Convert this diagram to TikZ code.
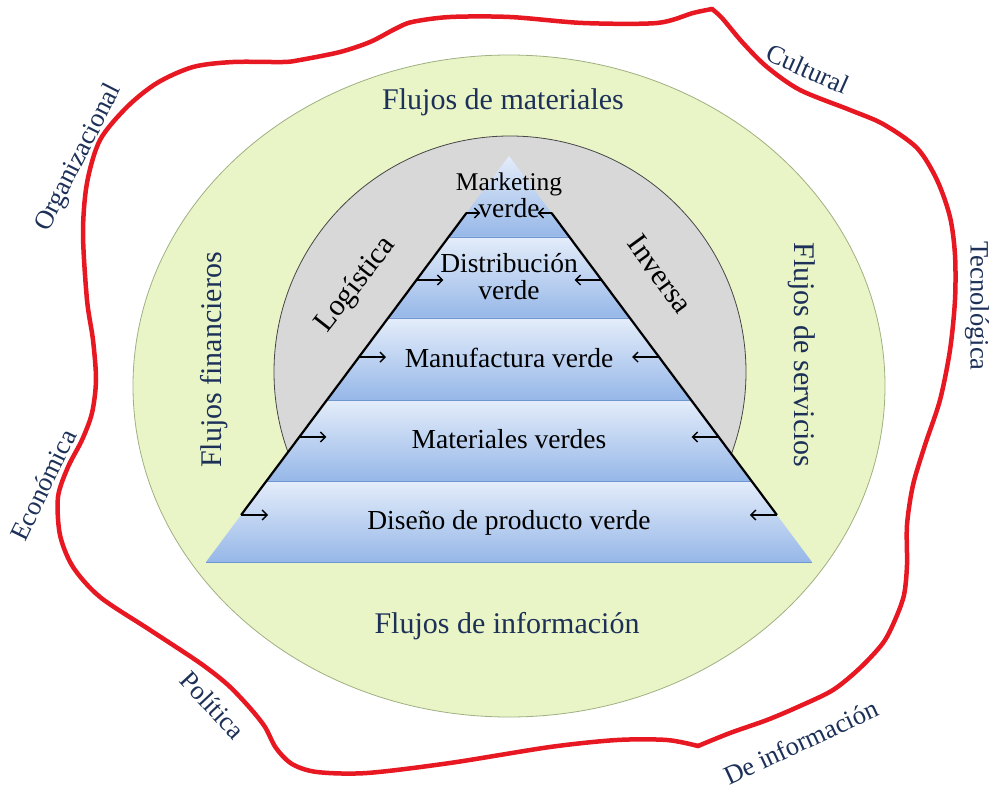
\documentclass[tikz,border=0pt]{standalone}
\usepackage{fontspec}
\setmainfont{Liberation Serif}
\usetikzlibrary{arrows.meta,calc}

\definecolor{navytext}{RGB}{28,48,88}
\definecolor{ringgreen}{RGB}{233,245,199}
\definecolor{ringgreenline}{RGB}{160,176,130}
\definecolor{loggray}{RGB}{216,216,216}
\definecolor{loggrayline}{RGB}{70,70,70}
\definecolor{bandtop}{RGB}{228,237,250}
\definecolor{bandbottom}{RGB}{150,183,232}
\definecolor{bandline}{RGB}{112,150,210}
\definecolor{contextred}{RGB}{232,24,34}

\tikzset{
  flowring/.style={fill=ringgreen, draw=ringgreenline, line width=0.8pt},
  logring/.style={fill=loggray, draw=loggrayline, line width=0.8pt},
  band/.style={top color=bandtop, bottom color=bandbottom, draw=none},
  bandsep/.style={draw=bandline, line width=0.9pt},
  sideedge/.style={draw=black, line width=2.2pt},
  flowarrow/.style={draw=black, line width=1.5pt, -{Straight Barb[length=5pt,width=10pt,line width=1.4pt]}},
  contour/.style={draw=contextred, line width=4.5pt, line join=round, line cap=round},
  flowlabel/.style={text=navytext, font=\fontsize{30}{34}\selectfont, inner sep=0pt},
  levellabel/.style={text=black, font=\fontsize{27.5}{30}\selectfont, inner sep=0pt, anchor=base},
  sidelabel/.style={text=black, font=\fontsize{30}{34}\selectfont, inner sep=0pt},
  envlabel/.style={text=navytext, font=\fontsize{26.5}{30}\selectfont, inner sep=0pt}
}

\begin{document}
\begin{tikzpicture}[x=1pt,y=-1pt]
\useasboundingbox (0,0) rectangle (994,792);
\fill[white] (0,0) rectangle (994,792);

% outer ring of flows
\draw[flowring] (509,386) ellipse [x radius=376pt, y radius=331pt];

% reverse logistics disc, cut at the pyramid base
\begin{scope}
  \clip (0,0) rectangle (994,562);
  \draw[logring] (510,372) circle [radius=236pt];
\end{scope}

% pyramid corners
\coordinate (apex) at (509,156);
\coordinate (bl) at (206,562);
\coordinate (br) at (812,562);
\foreach \i/\t in {1/0.1995,2/0.399,3/0.601,4/0.8005}{
  \coordinate (l\i) at ($(apex)!\t!(bl)$);
  \coordinate (r\i) at ($(apex)!\t!(br)$);
}

% pyramid levels
\shade[band] (apex) -- (r1) -- (l1) -- cycle;
\shade[band] (l1) -- (r1) -- (r2) -- (l2) -- cycle;
\shade[band] (l2) -- (r2) -- (r3) -- (l3) -- cycle;
\shade[band] (l3) -- (r3) -- (r4) -- (l4) -- cycle;
\shade[band] (l4) -- (r4) -- (br) -- (bl) -- cycle;
\foreach \i in {1,2,3,4}{ \draw[bandsep] (l\i) -- (r\i); }
\draw[bandsep] (bl) -- (br);

% black flanks of the pyramid
\coordinate (ltop) at ($(apex)!0.1404!(bl)$);
\coordinate (lbot) at ($(apex)!0.8842!(bl)$);
\coordinate (rtop) at ($(apex)!0.1404!(br)$);
\coordinate (rbot) at ($(apex)!0.8842!(br)$);
\draw[sideedge] (ltop) -- (lbot);
\draw[sideedge] (rtop) -- (rbot);

% inward arrows on both flanks
\foreach \t/\len [count=\k] in {0.1404/14,0.3054/27,0.4951/27,0.6921/27,0.8842/27}{
  \coordinate (al\k) at ($(apex)!\t!(bl)$);
  \coordinate (ar\k) at ($(apex)!\t!(br)$);
  \draw[flowarrow] (al\k) -- ++(\len,0);
  \draw[flowarrow] (ar\k) -- ++(-\len,0);
}

% level labels
\node[levellabel, font=\fontsize{25.5}{28}\selectfont] (mkt) at (509,190) {Marketing};
\node[levellabel] (mktv) at (509,217) {verde};
\node[levellabel] (dist) at (509,272) {Distribución};
\node[levellabel] (distv) at (509,299) {verde};
\node[levellabel] (manu) at (509,367) {Manufactura verde};
\node[levellabel] (mat) at (509,448) {Materiales verdes};
\node[levellabel] (dis) at (509,529) {Diseño de producto verde};

% reverse logistics labels
\node[sidelabel, rotate=52] (logi) at (356,285) {Logística};
\node[sidelabel, rotate=-54] (inv) at (660,274) {Inversa};

% flow labels
\node[flowlabel, anchor=base] (fmat) at (503,110) {Flujos de materiales};
\node[flowlabel, anchor=base] (finf) at (507,633) {Flujos de información};
\node[flowlabel, rotate=90] (ffin) at (214,360) {Flujos financieros};
\node[flowlabel, rotate=-90] (fser) at (802,355) {Flujos de servicios};

% surrounding context boundary
\coordinate (cuspt) at (712,9);
\coordinate (cuspb) at (698,746);
\draw[contour] plot[smooth, tension=0.5] coordinates {
  (712,9) (722,18) (743,43) (767,67) (800,90) (850,110) (883,124) (917,148)
  (937,180) (950,217) (955,255) (955,300) (950,350) (940,400) (925,445)
  (913,485) (907,525) (907,565) (904,595) (895,620) (883,643) (860,668)
  (833,690) (800,706) (767,720) (730,733) (698,746)};
\draw[contour] plot[smooth, tension=0.5] coordinates {
  (698,746) (667,740) (617,740) (550,747) (450,763) (367,773) (317,772)
  (292,764) (276,748) (265,727) (250,708) (228,685) (200,663) (150,630)
  (100,597) (73,567) (60,535) (58,497) (68,467) (82,440) (92,413) (96,380)
  (93,340) (87,300) (83,233) (87,183) (100,140) (127,107) (157,83) (193,67)
  (233,62) (283,62) (300,60) (340,52) (370,42) (395,29) (412,22) (450,17)
  (510,17) (583,23) (657,23) (693,13) (712,9)};

% context labels
\node[envlabel, rotate=63] (org) at (79,158) {Organizacional};
\node[envlabel, rotate=-24] (cul) at (808,69) {Cultural};
\node[envlabel, rotate=-90] (tec) at (977,306) {Tecnológica};
\node[envlabel, rotate=64] (eco) at (43,485) {Económica};
\node[envlabel, rotate=-47] (pol) at (213,705) {Política};
\node[envlabel, rotate=25] (dei) at (801,742) {De información};
\end{tikzpicture}
\end{document}
